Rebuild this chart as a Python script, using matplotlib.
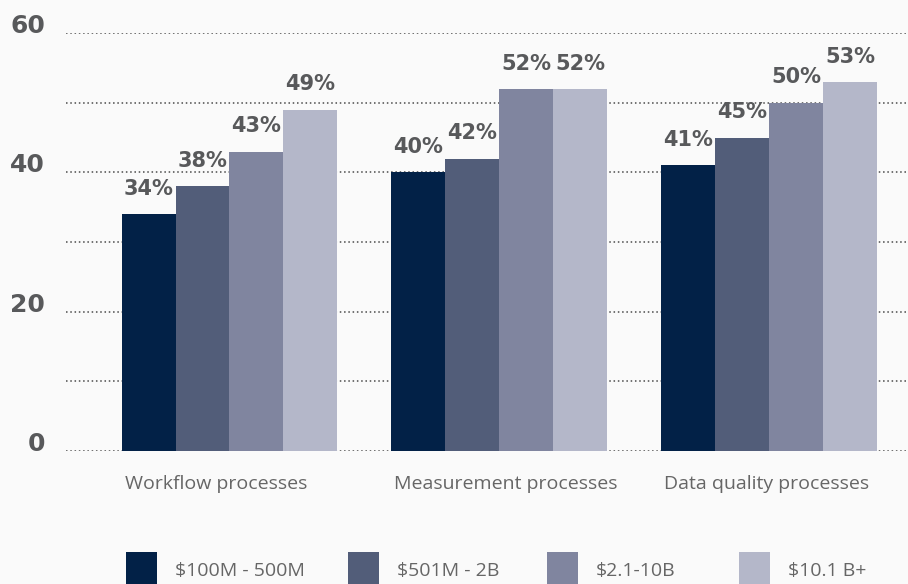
import matplotlib
matplotlib.use('Agg')
import matplotlib.pyplot as plt
from matplotlib.patches import Rectangle
import numpy as np

categories = ['Workflow processes', 'Measurement processes', 'Data quality processes']
series_names = ['$100M - 500M', '$501M - 2B', '$2.1-10B', '$10.1 B+']
values_100m_500m = [34, 40, 41]
values_501m_2b = [38, 42, 45]
values_2_1_10b = [43, 52, 50]
values_10_1b_plus = [49, 52, 53]
y_ticks = [0, 10, 20, 30, 40, 50, 60]
y_tick_labels = ['0', '', '20', '', '40', '', '60']

series_values = [values_100m_500m, values_501m_2b, values_2_1_10b, values_10_1b_plus]
colors = ['#022147', '#525d79', '#80859f', '#b4b7c9']
bg = '#fafafa'
txt = '#58595b'

W, H = 908, 584
fig = plt.figure(figsize=(W / 100, H / 100), dpi=100, facecolor=bg)
ax = fig.add_axes([66 / W, (H - 450.7) / H, (906 - 66) / W, (450.7 - 33.3) / H])
ax.set_facecolor(bg)

x = np.arange(len(categories))
bw = 0.2
for i, (vals, c) in enumerate(zip(series_values, colors)):
    pos = x + (i - 1.5) * bw
    ax.bar(pos, vals, width=bw, color=c, zorder=2)
    for p, v in zip(pos, vals):
        ax.annotate(f'{v}%', (p, v), xytext=(0, 14), textcoords='offset points',
                    ha='center', va='baseline', fontsize=15, fontweight='bold',
                    color=txt, family='DejaVu Sans')

ax.set_xlim(-0.606, 2.508)
ax.set_ylim(0, 60)
ax.set_yticks(y_ticks)
ax.set_yticklabels(y_tick_labels, fontsize=18, fontweight='bold', color=txt, va='baseline')
ax.set_xticks(x - 2 * bw + 0.011)
ax.set_xticklabels(categories, fontsize=14, color='#666666', family='Open Sans', ha='left')
ax.tick_params(axis='y', length=0, pad=15)
ax.tick_params(axis='x', length=0, pad=17.5)
for s in ax.spines.values():
    s.set_visible(False)
ax.grid(axis='y', linestyle=(0, (1, 1.8)), linewidth=1.1, color='#4a4a4a', zorder=0)
ax.set_axisbelow(True)

# legend
sq_x = [126, 348, 547, 739]
for sx, name, c in zip(sq_x, series_names, colors):
    fig.patches.append(Rectangle((sx / W, 0), 31 / W, (H - 552) / H, transform=fig.transFigure,
                                 facecolor=c, edgecolor='none'))
    fig.text((sx + 49) / W, (H - 571) / H, name, fontsize=14, color='#666666',
             family='Open Sans', ha='left', va='center')

fig.savefig('out.png', dpi=100, facecolor=bg)
